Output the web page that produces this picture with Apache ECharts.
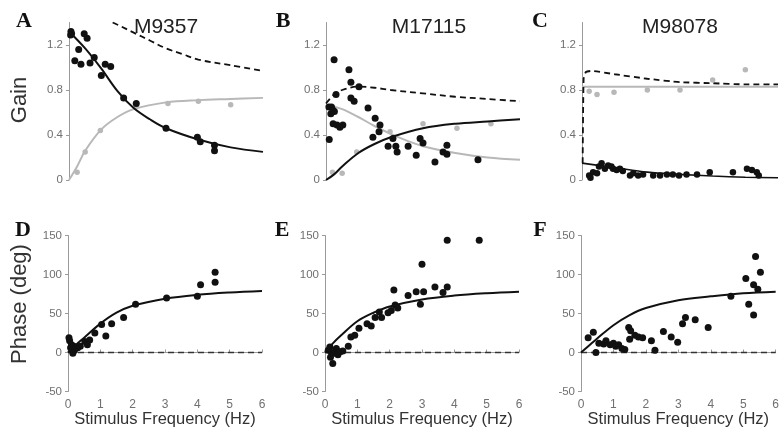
<!DOCTYPE html>
<html><head><meta charset="utf-8">
<script src="https://cdn.jsdelivr.net/npm/echarts@6/dist/echarts.min.js"></script>
<style>html,body{margin:0;padding:0;background:#fff}#c{width:782px;height:441px}</style>
</head><body><div id="c"></div>
<script>
// ---- tick labels / categories ----
const freqTicks = [0, 1, 2, 3, 4, 5, 6];
const gainTicks = [0, 0.4, 0.8, 1.2];
const phaseTicks = [-50, 0, 50, 100, 150];
const panelLetters = ['A', 'B', 'C', 'D', 'E', 'F'];
const cellNames = ['M9357', 'M17115', 'M98078'];

// ---- Panel A (M9357) gain ----
const gainA_dots = [[0.06,1.32],[0.08,1.30],[0.05,1.29],[0.3,1.16],[0.18,1.06],[0.37,1.03],[0.47,1.30],[0.56,1.26],[0.65,1.04],[0.78,1.09],[1.0,0.93],[1.12,1.03],[1.29,1.01],[1.69,0.73],[2.08,0.68],[3.0,0.46],[3.97,0.38],[4.06,0.34],[4.5,0.31],[4.5,0.26]];
const gainA_grayDots = [[0.25,0.07],[0.5,0.25],[0.97,0.44],[2.08,0.66],[3.06,0.68],[4.0,0.70],[5.0,0.67]];
const gainA_fit = [[0,1.32],[0.5,1.17],[1,0.99],[1.5,0.79],[2,0.64],[2.5,0.54],[3,0.46],[4,0.36],[5,0.29],[6,0.25]];
const gainA_grayFit = [[0,0],[0.25,0.12],[0.5,0.26],[1,0.45],[1.5,0.56],[2,0.63],[3,0.69],[4,0.71],[5,0.72],[6,0.73]];
const gainA_dashed = [[1.35,1.40],[1.5,1.38],[2,1.31],[2.5,1.24],[3,1.17],[3.5,1.12],[4,1.07],[5,1.02],[6,0.97]];

// ---- Panel B (M17115) gain ----
const gainB_dots = [[0.25,1.07],[0.09,0.65],[0.17,0.65],[0.22,0.62],[0.15,0.59],[0.26,0.61],[0.1,0.36],[0.22,0.50],[0.34,0.49],[0.43,0.47],[0.31,0.76],[0.52,0.49],[0.71,0.98],[0.77,0.87],[0.77,0.73],[0.87,0.70],[1.02,0.83],[1.3,0.64],[1.52,0.55],[1.45,0.38],[1.67,0.49],[1.64,0.43],[1.92,0.30],[2.07,0.37],[2.16,0.30],[2.2,0.25],[2.54,0.30],[2.79,0.22],[2.91,0.37],[3.0,0.33],[3.37,0.16],[3.62,0.25],[3.74,0.31],[3.74,0.23],[4.7,0.18]];
const gainB_grayDots = [[0.2,0.07],[0.5,0.06],[0.95,0.25],[1.98,0.43],[3.0,0.50],[4.05,0.46],[5.1,0.50]];
const gainB_fit = [[0,0],[0.25,0.05],[0.5,0.12],[1,0.24],[1.5,0.32],[2,0.38],[3,0.46],[4,0.50],[5,0.52],[6,0.54]];
const gainB_grayFit = [[0,0.67],[0.5,0.63],[1,0.56],[1.5,0.48],[2,0.41],[2.5,0.35],[3,0.30],[4,0.24],[5,0.20],[6,0.18]];
const gainB_dashed = [[0,0.68],[0.25,0.76],[0.5,0.80],[1,0.83],[1.5,0.82],[2,0.80],[3,0.77],[4,0.74],[5,0.72],[6,0.70]];

// ---- Panel C (M98078) gain ----
const gainC_dots = [[0.22,0.04],[0.26,0.02],[0.34,0.07],[0.46,0.06],[0.52,0.12],[0.6,0.15],[0.7,0.10],[0.8,0.13],[0.9,0.12],[0.95,0.10],[1.06,0.09],[1.16,0.10],[1.25,0.08],[1.47,0.04],[1.57,0.06],[1.72,0.04],[1.87,0.05],[2.18,0.04],[2.39,0.04],[2.6,0.05],[2.78,0.05],[2.97,0.04],[3.2,0.05],[3.52,0.05],[3.91,0.07],[4.62,0.07],[5.05,0.10],[5.2,0.09],[5.35,0.07],[5.41,0.04]];
const gainC_grayDots = [[0.22,0.79],[0.46,0.76],[0.98,0.78],[2.0,0.80],[3.0,0.80],[4.0,0.89],[5.0,0.98]];
const gainC_fit = [[0,0.15],[1,0.11],[2,0.07],[3,0.05],[4,0.035],[5,0.025],[6,0.02]];
const gainC_grayFit = [[0,0.83],[6,0.83]];
const gainC_dashed = [[0.02,0.15],[0.05,0.90],[0.12,0.96],[0.3,0.97],[1,0.94],[2,0.90],[3,0.87],[4,0.86],[5,0.85],[6,0.85]];

// ---- Panel D/E/F phase ----
const phaseD_dots = [[0.03,19],[0.05,15],[0.11,10],[0.08,6],[0.18,8],[0.2,3],[0.15,-1],[0.3,6],[0.38,8],[0.52,14],[0.6,10],[0.67,16],[0.83,25],[1.04,36],[1.17,21],[1.35,37],[1.72,45],[2.09,62],[3.05,70],[4.0,72],[4.1,87],[4.55,90],[4.55,103]];
const phaseD_fit = [[0,0],[0.25,10],[0.5,19],[1,37],[1.5,51],[2,60],[3,69],[4,74],[5,77],[6,79]];
const phaseE_dots = [[0.1,3],[0.15,7],[0.2,0],[0.17,-6],[0.24,-14],[0.3,-1],[0.35,5],[0.4,-3],[0.47,1],[0.55,2],[0.72,8],[0.8,20],[0.92,22],[1.05,31],[1.3,37],[1.43,34],[1.55,45],[1.68,52],[1.75,45],[1.95,51],[2.05,54],[2.13,80],[2.17,61],[2.25,57],[2.57,73],[2.82,78],[2.95,62],[3.0,113],[3.05,78],[3.4,84],[3.65,77],[3.78,84],[3.78,144],[4.77,144]];
const phaseE_fit = [[0,0],[0.25,12],[0.5,22],[1,40],[1.5,51],[2,59],[3,68],[4,73],[5,76],[6,78]];
const phaseF_dots = [[0.22,19],[0.38,26],[0.46,0],[0.55,12],[0.7,11],[0.77,15],[0.9,10],[1.0,12],[1.07,8],[1.16,10],[1.26,5],[1.35,4],[1.47,32],[1.53,28],[1.5,17],[1.66,22],[1.77,20],[1.9,19],[2.17,15],[2.28,3],[2.54,27],[2.78,20],[2.98,13],[3.13,37],[3.22,45],[3.52,42],[3.92,32],[4.62,72],[5.08,95],[5.17,62],[5.32,87],[5.32,48],[5.38,123],[5.45,81],[5.53,103]];
const phaseF_fit = [[0,0],[0.25,9],[0.5,18],[1,35],[1.5,48],[2,57],[3,67],[4,72],[5,76],[6,78]];
const zeroLine = [[0,0],[6,0]];

const BLACK = '#111', GRAY = '#b8b8b8', AXIS = '#9a9a9a', LABEL = '#707070';
const FONT = 'Liberation Sans, Arial, sans-serif';

const lefts = [69, 326, 582];
const widths = [194, 194, 196];
const grids = [];
for (let r = 0; r < 2; r++) for (let c = 0; c < 3; c++) {
  grids.push(r === 0 ? {left: lefts[c], top: 22.5, width: widths[c], height: 157.5}
                     : {left: lefts[c] - 1, top: 235.5, width: widths[c], height: 156});
}

const xAxes = grids.map((g, i) => ({
  gridIndex: i, type: 'value', min: 0, max: 6, interval: 1,
  show: i >= 3,
  axisLine: {lineStyle: {color: AXIS, width: 1}},
  axisTick: {show: true, length: 3, inside: true, lineStyle: {color: AXIS}},
  axisLabel: {color: LABEL, fontSize: 12, fontFamily: FONT, margin: 7},
  splitLine: {show: false},
  name: 'Stimulus Frequency (Hz)', nameLocation: 'middle', nameGap: 19,
  nameTextStyle: {color: '#333', fontSize: 16.5, fontFamily: FONT, verticalAlign: 'top'}
}));
const yAxes = grids.map((g, i) => i < 3 ? ({
  gridIndex: i, type: 'value', min: 0, max: 1.4,
  axisLine: {show: true, lineStyle: {color: AXIS, width: 1}},
  axisTick: {show: true, length: 3, customValues: gainTicks, lineStyle: {color: AXIS}},
  axisLabel: {color: LABEL, fontSize: 11.5, fontFamily: FONT, margin: 6, customValues: gainTicks},
  splitLine: {show: false}
}) : ({
  gridIndex: i, type: 'value', min: -50, max: 150, interval: 50,
  axisLine: {show: true, lineStyle: {color: AXIS, width: 1}},
  axisTick: {show: true, length: 3, lineStyle: {color: AXIS}},
  axisLabel: {color: LABEL, fontSize: 11.5, fontFamily: FONT, margin: 6},
  splitLine: {show: false}
}));

const series = [];
function dots(i, data, color, size) {
  series.push({type: 'scatter', xAxisIndex: i, yAxisIndex: i, data, symbolSize: size,
    itemStyle: {color, opacity: 1}, z: 3, silent: true});
}
function line(i, data, color, width, dashed, z, smooth) {
  series.push({type: 'line', xAxisIndex: i, yAxisIndex: i, data, showSymbol: false,
    smooth: smooth === undefined ? 0.35 : smooth, clip: true,
    lineStyle: {color, width, type: dashed ? [6, 4] : 'solid'}, z: z || 2, silent: true});
}
// A
line(0, gainA_grayFit, GRAY, 2);
dots(0, gainA_grayDots, GRAY, 5.5);
line(0, gainA_fit, BLACK, 2, false, 4);
line(0, gainA_dashed, BLACK, 1.8, true);
dots(0, gainA_dots, BLACK, 7);
// B
line(1, gainB_grayFit, GRAY, 2);
dots(1, gainB_grayDots, GRAY, 5.5);
line(1, gainB_fit, BLACK, 2, false, 4);
line(1, gainB_dashed, BLACK, 1.8, true);
dots(1, gainB_dots, BLACK, 7);
// C
line(2, gainC_grayFit, GRAY, 2);
dots(2, gainC_grayDots, GRAY, 5.5);
line(2, gainC_fit, BLACK, 1.6, false, 4);
line(2, gainC_dashed, BLACK, 1.8, true, 2, 0.15);
dots(2, gainC_dots, BLACK, 6.5);
// D E F
[[phaseD_dots, phaseD_fit], [phaseE_dots, phaseE_fit], [phaseF_dots, phaseF_fit]].forEach((p, k) => {
  const i = k + 3;
  line(i, zeroLine, '#333', 1.3, true, 1, false);
  line(i, p[1], BLACK, 2, false, 4);
  dots(i, p[0], BLACK, 7);
});

const letterPos = [[24,21],[283,21],[540,21],[23,230],[282,230],[540,230]];
const titlePos = [[166,27],[429,27],[680,27]];
const graphic = [];
panelLetters.forEach((t, i) => graphic.push({type: 'text', x: letterPos[i][0], y: letterPos[i][1],
  style: {text: t, fill: '#111', font: 'bold 22px "Liberation Serif", "Times New Roman", serif', align: 'center', verticalAlign: 'middle'}}));
cellNames.forEach((t, i) => graphic.push({type: 'text', x: titlePos[i][0], y: titlePos[i][1],
  style: {text: t, fill: '#222', font: '21px ' + FONT, align: 'center', verticalAlign: 'middle'}}));
graphic.push({type: 'text', x: 20, y: 100, rotation: Math.PI / 2,
  style: {text: 'Gain', fill: '#333', font: '22px ' + FONT, align: 'center', verticalAlign: 'middle'}});
graphic.push({type: 'text', x: 20, y: 304, rotation: Math.PI / 2,
  style: {text: 'Phase (deg)', fill: '#333', font: '22px ' + FONT, align: 'center', verticalAlign: 'middle'}});

const chart = echarts.init(document.getElementById('c'), null, {renderer: 'canvas'});
chart.setOption({
  animation: false, backgroundColor: '#fff',
  grid: grids, xAxis: xAxes, yAxis: yAxes, series, graphic
});
</script></body></html>
